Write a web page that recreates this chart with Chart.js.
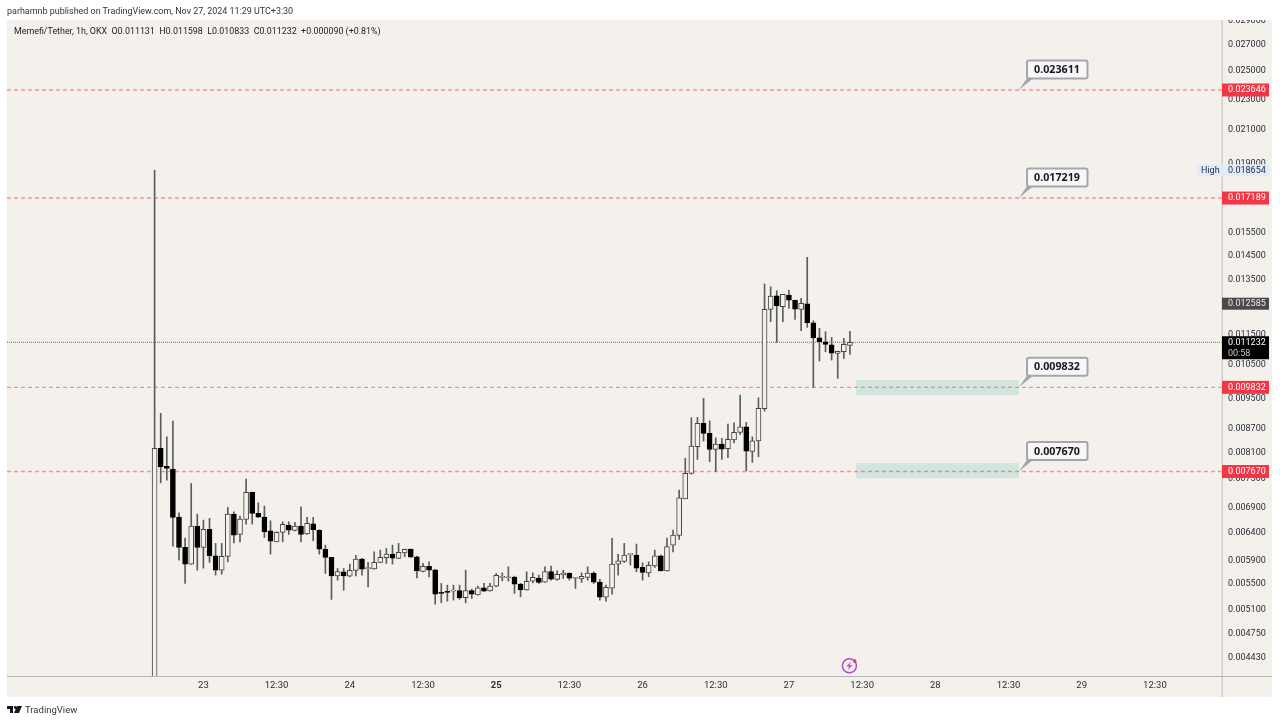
<!DOCTYPE html>
<html>
<head>
<meta charset="utf-8">
<title>Memefi/Tether 1h</title>
<script src="https://cdn.jsdelivr.net/npm/chart.js@4"></script>
<style>
  html, body { margin: 0; padding: 0; background: #fff; }
  #wrap { position: relative; width: 1280px; height: 723px; overflow: hidden; }
  canvas { position: absolute; left: 0; top: 0; }
  .txt { position: absolute; white-space: nowrap; font-family: Roboto, sans-serif; color: #333; }
  svg { position: absolute; }
</style>
</head>
<body>
<div id="wrap">
  <canvas id="myChart" width="1280" height="723"></canvas>
  <div class="txt" style="left:7px;top:6px;font-size:8.95px">parhamnb published on TradingView.com, Nov 27, 2024 11:29 UTC+3:30</div>
  <div class="txt" style="left:14px;top:26px;font-size:8.9px;color:#222">Memefi/Tether, 1h, OKX&nbsp; O0.011131&nbsp; H0.011598&nbsp; L0.010833&nbsp; C0.011232&nbsp; +0.000090 (+0.81%)</div>
  <svg style="left:7px;top:706px" width="16" height="8" viewBox="0 0 16 8">
    <path d="M0 0H6V7H3V3H0Z M7 7L10 0H15L12 7Z" fill="#131722"/><circle cx="8.3" cy="1.5" r="1.4" fill="#131722"/>
  </svg>
  <div class="txt" style="left:25px;top:704px;font-size:9.5px">TradingView</div>
  <svg style="left:841px;top:657px" width="18" height="18" viewBox="0 0 18 18">
    <circle cx="8.4" cy="8.8" r="7" fill="none" stroke="#b04fd0" stroke-width="1.5"/>
    <path d="M10.2 4.2L5.4 9.6H8.2L6.6 13.4L11.4 8H8.6Z" fill="#b04fd0"/>
    <circle cx="13.7" cy="4" r="1.8" fill="#f23645"/>
  </svg>
</div>
<script>
const opens = [0.0030,0.008211,0.007786,0.007724,0.006704,0.006131,0.005836,0.006529,0.006131,0.006465,0.005981,0.005733,0.005970,0.006764,0.006371,0.006659,0.007211,0.006778,0.006704,0.006438,0.006233,0.006408,0.006548,0.006445,0.006529,0.006382,0.006573,0.006451,0.006100,0.005953,0.005638,0.005705,0.005633,0.005728,0.005923,0.005760,0.005755,0.005865,0.005946,0.006011,0.005935,0.006034,0.006100,0.005963,0.005711,0.005797,0.005738,0.005368,0.005384,0.005388,0.005399,0.005284,0.005399,0.005330,0.005441,0.005393,0.005469,0.005611,0.005606,0.005616,0.005501,0.005409,0.005550,0.005600,0.005534,0.005711,0.005578,0.005655,0.005678,0.005598,0.005588,0.005611,0.005678,0.005534,0.005294,0.005436,0.005836,0.005883,0.006001,0.005994,0.005779,0.005688,0.005807,0.005981,0.005721,0.006173,0.006352,0.007076,0.007627,0.008251,0.008841,0.008584,0.008187,0.008316,0.008202,0.008422,0.008609,0.008752,0.008139,0.008397,0.009230,0.012377,0.012885,0.012473,0.012912,0.012710,0.012377,0.012584,0.011898,0.011382,0.011248,0.011150,0.010870,0.010921,0.011131];
const highs = [0.018654,0.009106,0.008497,0.008900,0.006790,0.006301,0.007405,0.006764,0.006645,0.006679,0.006204,0.006204,0.006899,0.006810,0.006724,0.007499,0.007218,0.006994,0.006926,0.006631,0.006419,0.006612,0.006612,0.006600,0.006912,0.006699,0.006699,0.006455,0.006173,0.005955,0.005762,0.005762,0.005836,0.005988,0.005935,0.005865,0.006052,0.006082,0.006113,0.006173,0.006204,0.006100,0.006102,0.005976,0.005848,0.005876,0.005745,0.005513,0.005485,0.005485,0.005485,0.005733,0.005420,0.005469,0.005513,0.005513,0.005678,0.005688,0.005790,0.005633,0.005513,0.005705,0.005688,0.005650,0.005790,0.005802,0.005721,0.005733,0.005688,0.005611,0.005688,0.005790,0.005705,0.005578,0.005485,0.006296,0.006006,0.006204,0.006011,0.006191,0.005859,0.005876,0.006082,0.005994,0.006301,0.006451,0.007260,0.007972,0.008988,0.008998,0.009517,0.008908,0.008472,0.008457,0.008822,0.008856,0.009611,0.008866,0.008497,0.009534,0.013338,0.013232,0.013075,0.012938,0.013102,0.012721,0.012786,0.014432,0.011968,0.011702,0.011585,0.011395,0.010940,0.011362,0.011598];
const lows = [0.0029,0.007418,0.007477,0.006155,0.005905,0.005513,0.005831,0.005733,0.005767,0.005865,0.005650,0.005666,0.005876,0.006215,0.006233,0.006567,0.006567,0.006699,0.006314,0.006011,0.006233,0.006233,0.006371,0.006438,0.006233,0.006371,0.006251,0.006011,0.005678,0.005258,0.005566,0.005404,0.005621,0.005638,0.005650,0.005456,0.005750,0.005859,0.005848,0.005836,0.005935,0.005963,0.005958,0.005604,0.005705,0.005621,0.005186,0.005206,0.005232,0.005247,0.005258,0.005206,0.005274,0.005326,0.005384,0.005388,0.005458,0.005555,0.005550,0.005352,0.005299,0.005404,0.005522,0.005513,0.005529,0.005566,0.005566,0.005594,0.005566,0.005432,0.005529,0.005566,0.005513,0.005247,0.005232,0.005341,0.005650,0.005865,0.005819,0.005705,0.005566,0.005621,0.005779,0.005721,0.005716,0.006052,0.006277,0.007076,0.007611,0.007949,0.008390,0.007893,0.007672,0.007949,0.007987,0.008348,0.008558,0.007685,0.007879,0.008011,0.009167,0.011933,0.011228,0.011933,0.012414,0.012016,0.011619,0.011737,0.009832,0.010625,0.010921,0.010656,0.010096,0.010710,0.010833];
const closes = [0.008211,0.007777,0.007740,0.006699,0.006131,0.005836,0.006529,0.006131,0.006465,0.005981,0.005733,0.005970,0.006764,0.006358,0.006665,0.007211,0.006778,0.006704,0.006419,0.006246,0.006408,0.006562,0.006451,0.006529,0.006371,0.006581,0.006457,0.006100,0.005953,0.005638,0.005711,0.005638,0.005728,0.005923,0.005750,0.005765,0.005865,0.005953,0.006011,0.005941,0.006041,0.006095,0.005958,0.005721,0.005797,0.005733,0.005341,0.005352,0.005368,0.005399,0.005284,0.005399,0.005341,0.005441,0.005388,0.005469,0.005645,0.005621,0.005613,0.005501,0.005409,0.005545,0.005611,0.005529,0.005711,0.005583,0.005661,0.005688,0.005600,0.005601,0.005628,0.005683,0.005534,0.005294,0.005448,0.005836,0.005893,0.005994,0.006006,0.005767,0.005695,0.005814,0.005981,0.005721,0.006146,0.006358,0.007098,0.007627,0.008268,0.008841,0.008584,0.008187,0.008316,0.008194,0.008432,0.008609,0.008752,0.008146,0.008397,0.009241,0.012377,0.012873,0.012499,0.012935,0.012721,0.012388,0.012599,0.011898,0.011382,0.011248,0.011163,0.010879,0.010934,0.011163,0.011232];

const timeTicks = [8,20,32,44,56,68,80,92,104,116,128,140,152,164];
const timeLabels = ["23","12:30","24","12:30","25","12:30","26","12:30","27","12:30","28","12:30","29","12:30"];
const priceTicks = [0.029,0.027,0.025,0.023,0.021,0.019,0.0155,0.0145,0.0135,0.0115,0.0105,0.0095,0.0087,0.0081,0.0075,0.0069,0.0064,0.0059,0.0055,0.0051,0.00475,0.00443];

const levels = [0.023646,0.017189,0.009832,0.00767];
const calloutTexts = ["0.023611","0.017219","0.009832","0.007670"];
const zoneTops = [0.010045,0.007862];
const zoneBottoms = [0.009609,0.007521];
const zoneStart = 115;
const zoneEnd = 141.7;
const lastClose = 0.011232;
const prevMark = 0.012585;
const highMark = 0.018654;

const PANEL = "#f4f1ed";
const hours = opens.map((_, i) => i);
const fmt = (v) => v.toFixed(6);
const candleUp = (i) => closes[i] >= opens[i];

const tag = (c, y, h, bg, fg, text) => {
  c.fillStyle = bg;
  c.fillRect(1222, y - h / 2, 47, h);
  c.fillStyle = fg;
  c.fillText(text, 1228, y);
};

const overlay = {
  id: "overlay",
  beforeDraw(chart) {
    const c = chart.ctx;
    c.save();
    c.fillStyle = "#fff";
    c.fillRect(0, 0, 1280, 723);
    c.fillStyle = PANEL;
    c.fillRect(7, 20, 1265, 677);
    const { x, y } = chart.scales;
    // green zones sit under the candles and the dashed lines
    c.fillStyle = "rgba(130,200,185,0.3)";
    zoneTops.forEach((top, i) => {
      const py = y.getPixelForValue(top);
      c.fillRect(x.getPixelForValue(zoneStart), py, x.getPixelForValue(zoneEnd) - x.getPixelForValue(zoneStart), y.getPixelForValue(zoneBottoms[i]) - py);
    });
    c.restore();
  },
  afterDraw(chart) {
    const c = chart.ctx;
    const { x, y } = chart.scales;
    c.save();
    // panel borders
    c.fillStyle = "#fff";
    c.fillRect(0, 0, 1280, 20);
    c.fillStyle = "#d0cfcd";
    c.fillRect(1221.5, 20, 1.5, 677);
    c.fillStyle = "#b4b3b1";
    c.fillRect(7, 676, 1265, 1);

    c.font = '9px Roboto, sans-serif';
    c.textBaseline = "middle";
    c.textAlign = "left";
    levels.forEach((lv) => tag(c, y.getPixelForValue(lv), 13, "#f23645", "#fff", fmt(lv)));
    tag(c, y.getPixelForValue(prevMark), 12, "#4a4a4a", "#e8e8e8", fmt(prevMark));

    const hy = y.getPixelForValue(highMark);
    c.fillStyle = "#e2ecf7";
    c.fillRect(1197, hy - 6, 72, 12);
    c.fillStyle = "#1b2a44";
    c.fillText("High", 1201, hy);
    c.fillText(fmt(highMark), 1228, hy);

    const cy = y.getPixelForValue(lastClose);
    c.fillStyle = "#000";
    c.fillRect(1222, cy - 6, 47, 23);
    c.fillStyle = "#fff";
    c.fillText(fmt(lastClose), 1228, cy + 0.5);
    c.fillStyle = "#c8c8c8";
    c.fillText("00:58", 1228, cy + 11);

    // callouts
    const ax = x.getPixelForValue(zoneEnd);
    c.font = 'bold 10.7px "Noto Sans", sans-serif';
    c.textAlign = "center";
    levels.forEach((lv, i) => {
      const ay = y.getPixelForValue(lv);
      const top = ay - 29.5;
      c.beginPath();
      c.roundRect(1027, top, 60.5, 18, 2);
      c.fillStyle = "#f8f7f5";
      c.fill();
      c.strokeStyle = "#a3a7ad";
      c.lineWidth = 2;
      c.stroke();
      c.beginPath();
      c.moveTo(ax, ay);
      c.lineTo(1027.5, top + 17);
      c.lineTo(1033, top + 18);
      c.closePath();
      c.fillStyle = "#a3a7ad";
      c.fill();
      c.fillStyle = "#131722";
      c.fillText(calloutTexts[i], 1057, top + 9.5);
    });
    c.restore();
  },
};

const levelSets = levels.map((lv) => ({
  type: "line",
  data: [{ x: -24.2, y: lv }, { x: 175, y: lv }],
  borderColor: "rgba(242,54,69,0.5)",
  borderWidth: 1.4,
  borderDash: [4, 3],
  pointRadius: 0,
  order: 3,
}));

const config = {
  type: "bar",
  data: {
    datasets: [
      {
        data: hours.map((h, i) => ({ x: h, y: [opens[i], closes[i]] })),
        backgroundColor: hours.map((i) => (candleUp(i) ? PANEL : "#000")),
        borderColor: hours.map((i) => (candleUp(i) ? "#454545" : "#000")),
        borderWidth: 1,
        borderSkipped: false,
        barThickness: 5,
        minBarLength: 1,
        grouped: false,
        order: 1,
      },
      {
        data: hours.map((h, i) => ({ x: h, y: [lows[i], highs[i]] })),
        backgroundColor: "#5c5c5c",
        borderWidth: 0,
        barThickness: 1,
        grouped: false,
        order: 2,
      },
      ...levelSets,
      {
        type: "line",
        data: [{ x: -24.2, y: lastClose }, { x: 175, y: lastClose }],
        borderColor: "#6b6b6b",
        borderWidth: 1,
        borderDash: [1, 1],
        pointRadius: 0,
        order: 3,
      },
    ],
  },
  plugins: [overlay],
  options: {
    responsive: false,
    animation: false,
    layout: { padding: { left: 7, top: 20, right: 8, bottom: 26 } },
    plugins: { legend: { display: false }, tooltip: { enabled: false } },
    scales: {
      x: {
        type: "linear",
        min: -24.2,
        max: 175,
        offset: false,
        grid: { display: false, drawTicks: false },
        border: { display: false },
        afterBuildTicks: (s) => { s.ticks = timeTicks.map((v) => ({ value: v })); },
        afterFit: (s) => { s.height = 21; },
        ticks: {
          autoSkip: false,
          maxRotation: 0,
          padding: 4,
          color: "#2a2e39",
          font: (ctx) => ({ family: "Roboto, sans-serif", size: 9.5, weight: ctx.tick && ctx.tick.value === 56 ? "bold" : "normal" }),
          callback: (v) => timeLabels[timeTicks.indexOf(v)],
        },
      },
      y: {
        type: "logarithmic",
        position: "right",
        min: 0.004195,
        max: 0.02907,
        bounds: "data",
        grid: { display: false, drawTicks: false },
        border: { display: false },
        afterBuildTicks: (s) => { s.ticks = priceTicks.map((v) => ({ value: v })); },
        afterFit: (s) => { s.width = 50; },
        ticks: {
          autoSkip: false,
          padding: 6,
          color: "#2a2e39",
          font: { family: "Roboto, sans-serif", size: 9 },
          callback: (v) => fmt(v),
        },
      },
    },
  },
};

const ctx = document.getElementById("myChart");
const myChart = new Chart(ctx, config);
</script>
</body>
</html>
